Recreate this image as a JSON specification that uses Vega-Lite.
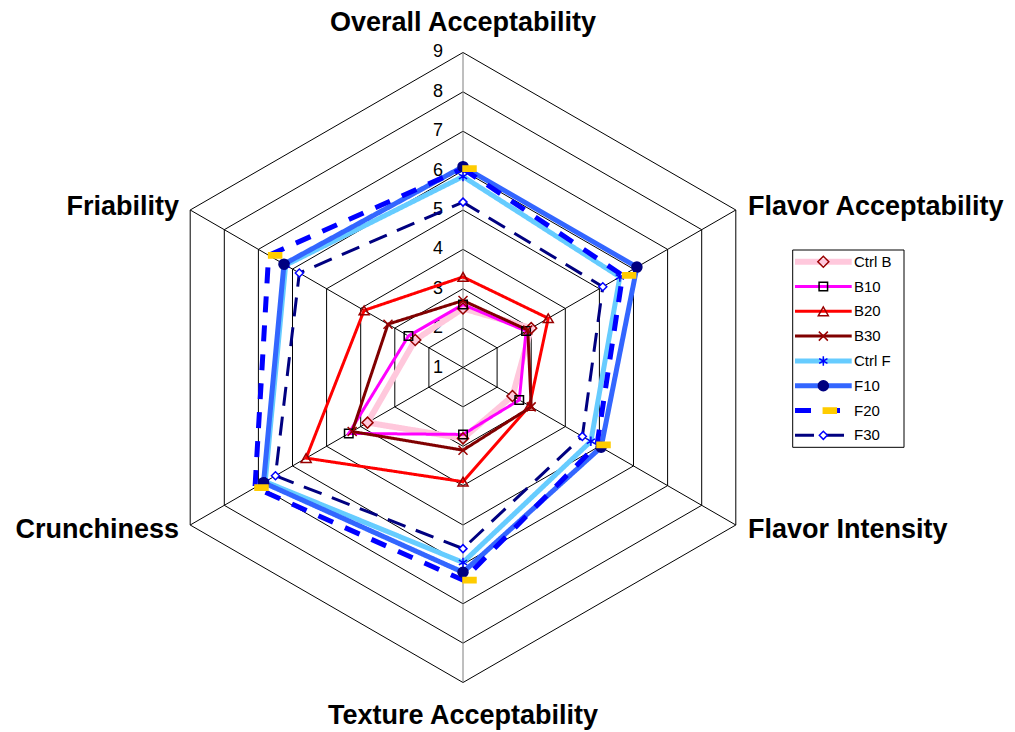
{
  "$schema": "https://vega.github.io/schema/vega-lite/v6.json",
  "width": 1015,
  "height": 732,
  "autosize": {"type": "none"},
  "padding": 0,
  "background": "white",
  "config": {"view": {"stroke": null}, "font": "Liberation Sans"},
  "datasets": {
    "scores": [
      {"series": "Ctrl B", "attribute": "Overall Acceptability", "value": 2.5},
      {"series": "Ctrl B", "attribute": "Flavor Acceptability", "value": 3.0},
      {"series": "Ctrl B", "attribute": "Flavor Intensity", "value": 2.45},
      {"series": "Ctrl B", "attribute": "Texture Acceptability", "value": 2.8},
      {"series": "Ctrl B", "attribute": "Crunchiness", "value": 3.8},
      {"series": "Ctrl B", "attribute": "Friability", "value": 2.4},
      {"series": "B10", "attribute": "Overall Acceptability", "value": 2.6},
      {"series": "B10", "attribute": "Flavor Acceptability", "value": 2.85},
      {"series": "B10", "attribute": "Flavor Intensity", "value": 2.65},
      {"series": "B10", "attribute": "Texture Acceptability", "value": 2.7},
      {"series": "B10", "attribute": "Crunchiness", "value": 4.35},
      {"series": "B10", "attribute": "Friability", "value": 2.6},
      {"series": "B20", "attribute": "Overall Acceptability", "value": 3.3},
      {"series": "B20", "attribute": "Flavor Acceptability", "value": 3.5},
      {"series": "B20", "attribute": "Flavor Intensity", "value": 2.95},
      {"series": "B20", "attribute": "Texture Acceptability", "value": 3.9},
      {"series": "B20", "attribute": "Crunchiness", "value": 5.6},
      {"series": "B20", "attribute": "Friability", "value": 3.9},
      {"series": "B30", "attribute": "Overall Acceptability", "value": 2.7},
      {"series": "B30", "attribute": "Flavor Acceptability", "value": 2.9},
      {"series": "B30", "attribute": "Flavor Intensity", "value": 3.0},
      {"series": "B30", "attribute": "Texture Acceptability", "value": 3.1},
      {"series": "B30", "attribute": "Crunchiness", "value": 4.25},
      {"series": "B30", "attribute": "Friability", "value": 3.2},
      {"series": "Ctrl F", "attribute": "Overall Acceptability", "value": 5.85},
      {"series": "Ctrl F", "attribute": "Flavor Acceptability", "value": 5.6},
      {"series": "Ctrl F", "attribute": "Flavor Intensity", "value": 4.75},
      {"series": "Ctrl F", "attribute": "Texture Acceptability", "value": 5.95},
      {"series": "Ctrl F", "attribute": "Crunchiness", "value": 6.8},
      {"series": "Ctrl F", "attribute": "Friability", "value": 6.2},
      {"series": "F10", "attribute": "Overall Acceptability", "value": 6.1},
      {"series": "F10", "attribute": "Flavor Acceptability", "value": 6.1},
      {"series": "F10", "attribute": "Flavor Intensity", "value": 5.05},
      {"series": "F10", "attribute": "Texture Acceptability", "value": 6.2},
      {"series": "F10", "attribute": "Crunchiness", "value": 6.85},
      {"series": "F10", "attribute": "Friability", "value": 6.25},
      {"series": "F20", "attribute": "Overall Acceptability", "value": 6.05},
      {"series": "F20", "attribute": "Flavor Acceptability", "value": 5.68},
      {"series": "F20", "attribute": "Flavor Intensity", "value": 4.93},
      {"series": "F20", "attribute": "Texture Acceptability", "value": 6.4},
      {"series": "F20", "attribute": "Crunchiness", "value": 7.1},
      {"series": "F20", "attribute": "Friability", "value": 6.7},
      {"series": "F30", "attribute": "Overall Acceptability", "value": 5.2},
      {"series": "F30", "attribute": "Flavor Acceptability", "value": 5.1},
      {"series": "F30", "attribute": "Flavor Intensity", "value": 4.5},
      {"series": "F30", "attribute": "Texture Acceptability", "value": 5.6},
      {"series": "F30", "attribute": "Crunchiness", "value": 6.5},
      {"series": "F30", "attribute": "Friability", "value": 5.8}
    ],
    "ticks": [{"v": 1}, {"v": 2}, {"v": 3}, {"v": 4}, {"v": 5}, {"v": 6}, {"v": 7}, {"v": 8}, {"v": 9}]
  },
  "encoding": {
    "x": {"field": "x", "type": "quantitative", "scale": {"domain": [-11.7587, 14.019], "nice": false, "zero": false}, "axis": null},
    "y": {"field": "y", "type": "quantitative", "scale": {"domain": [-9.2571, 9.3333], "nice": false, "zero": false}, "axis": null}
  },
  "layer": [
    {
      "data": {"name": "ticks"},
      "transform": [
        {"filter": "datum.v >= 2"},
        {"calculate": "[0,1,2,3,4,5]", "as": "ks"},
        {"flatten": ["ks"], "as": ["k"]},
        {"calculate": "(datum.v-1)*sin(datum.k*PI/3)", "as": "x"},
        {"calculate": "(datum.v-1)*cos(datum.k*PI/3)", "as": "y"}
      ],
      "mark": {"type": "line", "interpolate": "linear-closed", "color": "black", "strokeWidth": 1},
      "encoding": {"detail": {"field": "v", "type": "nominal"}, "order": {"field": "k", "type": "quantitative"}}
    },
    {
      "data": {"name": "ticks"},
      "transform": [
        {"filter": "datum.v == 9"},
        {"calculate": "[0,1,2,3,4,5]", "as": "ks"},
        {"flatten": ["ks"], "as": ["k"]},
        {"calculate": "(datum.v-1)*sin(datum.k*PI/3)", "as": "x"},
        {"calculate": "(datum.v-1)*cos(datum.k*PI/3)", "as": "y"}
      ],
      "mark": {"type": "rule", "strokeWidth": 1},
      "encoding": {
        "x2": {"datum": 0},
        "y2": {"datum": 0},
        "color": {"condition": {"test": "datum.k == 0 || datum.k == 3", "value": "#7f7f7f"}, "value": "black"}
      }
    },
    {
      "data": {"name": "ticks"},
      "transform": [
        {"calculate": "0", "as": "x"},
        {"calculate": "datum.v-1", "as": "y"}
      ],
      "mark": {"type": "text", "align": "right", "baseline": "middle", "dx": -20, "fontSize": 18, "color": "black"},
      "encoding": {"text": {"field": "v", "type": "nominal"}}
    },
    {
      "data": {"name": "scores"},
      "transform": [
        {"calculate": "indexof(['Overall Acceptability','Flavor Acceptability','Flavor Intensity','Texture Acceptability','Crunchiness','Friability'], datum.attribute)", "as": "k"},
        {"calculate": "(datum.value-1)*sin(datum.k*PI/3)", "as": "x"},
        {"calculate": "(datum.value-1)*cos(datum.k*PI/3)", "as": "y"}
      ],
      "mark": {"type": "line", "interpolate": "linear-closed"},
      "encoding": {
        "order": {"field": "k", "type": "quantitative"},
        "color": {"field": "series", "type": "nominal", "legend": null,
          "scale": {"type": "ordinal", "domain": ["Ctrl B", "B10", "B20", "B30", "Ctrl F", "F10", "F20", "F30"],
                    "range": ["#FFC8DC", "#FF00FF", "#FF0000", "#800000", "#66CCFF", "#3366FF", "#0000FF", "#000080"]}},
        "strokeWidth": {"field": "series", "type": "nominal", "legend": null,
          "scale": {"type": "ordinal", "domain": ["Ctrl B", "B10", "B20", "B30", "Ctrl F", "F10", "F20", "F30"],
                    "range": [6, 3, 3, 3, 5, 5, 5, 3]}},
        "strokeDash": {"field": "series", "type": "nominal", "legend": null,
          "scale": {"type": "ordinal", "domain": ["Ctrl B", "B10", "B20", "B30", "Ctrl F", "F10", "F20", "F30"],
                    "range": [[1, 0], [1, 0], [1, 0], [1, 0], [1, 0], [1, 0], [16, 13], [19, 11]]}}
      }
    },
    {
      "data": {"name": "scores"},
      "transform": [
        {"calculate": "indexof(['Overall Acceptability','Flavor Acceptability','Flavor Intensity','Texture Acceptability','Crunchiness','Friability'], datum.attribute)", "as": "k"},
        {"calculate": "(datum.value-1)*sin(datum.k*PI/3)", "as": "x"},
        {"calculate": "(datum.value-1)*cos(datum.k*PI/3)", "as": "y"}
      ],
      "mark": {"type": "point", "filled": true, "opacity": 1, "strokeWidth": 1.5},
      "encoding": {
        "shape": {"field": "series", "type": "nominal", "legend": null,
          "scale": {"type": "ordinal", "domain": ["Ctrl B", "B10", "B20", "B30", "Ctrl F", "F10", "F20", "F30"],
                    "range": ["diamond", "square", "triangle-up", "M-1,-1L1,1M-1,1L1,-1", "M0,-1L0,1M-0.87,-0.5L0.87,0.5M-0.87,0.5L0.87,-0.5", "circle", "M0,-0.2L1,-0.2L1,0.2L0,0.2Z", "diamond"]}},
        "size": {"field": "series", "type": "nominal", "legend": null,
          "scale": {"type": "ordinal", "domain": ["Ctrl B", "B10", "B20", "B30", "Ctrl F", "F10", "F20", "F30"],
                    "range": [121, 72, 100, 81, 90, 100, 676, 64]}},
        "fill": {"field": "series", "type": "nominal", "legend": null,
          "scale": {"type": "ordinal", "domain": ["Ctrl B", "B10", "B20", "B30", "Ctrl F", "F10", "F20", "F30"],
                    "range": ["transparent", "transparent", "transparent", "transparent", "transparent", "#000080", "#FFCC00", "white"]}},
        "stroke": {"field": "series", "type": "nominal", "legend": null,
          "scale": {"type": "ordinal", "domain": ["Ctrl B", "B10", "B20", "B30", "Ctrl F", "F10", "F20", "F30"],
                    "range": ["#990000", "#000000", "#990000", "#990000", "#0000FF", "#000080", "#FFCC00", "#0000FF"]}}
      }
    },
    {
      "data": {"name": "scores"},
      "transform": [
        {"filter": "datum.series == 'Ctrl B'"},
        {"calculate": "indexof(['Overall Acceptability','Flavor Acceptability','Flavor Intensity','Texture Acceptability','Crunchiness','Friability'], datum.attribute)", "as": "k"},
        {"filter": "datum.k == 0 || datum.k == 3"},
        {"calculate": "0", "as": "x"},
        {"calculate": "datum.k == 0 ? 8.75 : -8.85", "as": "y"}
      ],
      "mark": {"type": "text", "align": "center", "baseline": "middle", "fontSize": 27, "fontWeight": "bold", "color": "black"},
      "encoding": {"text": {"field": "attribute", "type": "nominal"}}
    },
    {
      "data": {"name": "scores"},
      "transform": [
        {"filter": "datum.series == 'Ctrl B'"},
        {"calculate": "indexof(['Overall Acceptability','Flavor Acceptability','Flavor Intensity','Texture Acceptability','Crunchiness','Friability'], datum.attribute)", "as": "k"},
        {"filter": "datum.k == 1 || datum.k == 2"},
        {"calculate": "7.238", "as": "x"},
        {"calculate": "datum.k == 1 ? 4.076 : -4.127", "as": "y"}
      ],
      "mark": {"type": "text", "align": "left", "baseline": "middle", "fontSize": 27, "fontWeight": "bold", "color": "black"},
      "encoding": {"text": {"field": "attribute", "type": "nominal"}}
    },
    {
      "data": {"name": "scores"},
      "transform": [
        {"filter": "datum.series == 'Ctrl B'"},
        {"calculate": "indexof(['Overall Acceptability','Flavor Acceptability','Flavor Intensity','Texture Acceptability','Crunchiness','Friability'], datum.attribute)", "as": "k"},
        {"filter": "datum.k == 4 || datum.k == 5"},
        {"calculate": "-7.213", "as": "x"},
        {"calculate": "datum.k == 5 ? 4.076 : -4.127", "as": "y"}
      ],
      "mark": {"type": "text", "align": "right", "baseline": "middle", "fontSize": 27, "fontWeight": "bold", "color": "black"},
      "encoding": {"text": {"field": "attribute", "type": "nominal"}}
    },
    {
      "data": {"values": [{"box": "legend"}]},
      "transform": [
        {"calculate": "8.373", "as": "x"},
        {"calculate": "11.2", "as": "x2"},
        {"calculate": "2.984", "as": "y"},
        {"calculate": "-2.027", "as": "y2"}
      ],
      "mark": {"type": "rect", "fill": "white", "stroke": "black", "strokeWidth": 1},
      "encoding": {"x2": {"field": "x2"}, "y2": {"field": "y2"}}
    },
    {
      "data": {"name": "scores"},
      "transform": [
        {"filter": "datum.attribute == 'Overall Acceptability'"},
        {"calculate": "indexof(['Ctrl B','B10','B20','B30','Ctrl F','F10','F20','F30'], datum.series)", "as": "i"},
        {"calculate": "8.432", "as": "x"},
        {"calculate": "9.872", "as": "x2"},
        {"calculate": "2.687 - datum.i*0.630", "as": "y"}
      ],
      "mark": {"type": "rule"},
      "encoding": {
        "x2": {"field": "x2"},
        "color": {"field": "series", "type": "nominal", "legend": null,
          "scale": {"type": "ordinal", "domain": ["Ctrl B", "B10", "B20", "B30", "Ctrl F", "F10", "F20", "F30"],
                    "range": ["#FFC8DC", "#FF00FF", "#FF0000", "#800000", "#66CCFF", "#3366FF", "#0000FF", "#000080"]}},
        "strokeWidth": {"field": "series", "type": "nominal", "legend": null,
          "scale": {"type": "ordinal", "domain": ["Ctrl B", "B10", "B20", "B30", "Ctrl F", "F10", "F20", "F30"],
                    "range": [6, 3, 3, 3, 5, 5, 5, 3]}},
        "strokeDash": {"field": "series", "type": "nominal", "legend": null,
          "scale": {"type": "ordinal", "domain": ["Ctrl B", "B10", "B20", "B30", "Ctrl F", "F10", "F20", "F30"],
                    "range": [[1, 0], [1, 0], [1, 0], [1, 0], [1, 0], [1, 0], [16, 13], [19, 11]]}}
      }
    },
    {
      "data": {"name": "scores"},
      "transform": [
        {"filter": "datum.attribute == 'Overall Acceptability'"},
        {"calculate": "indexof(['Ctrl B','B10','B20','B30','Ctrl F','F10','F20','F30'], datum.series)", "as": "i"},
        {"calculate": "9.151", "as": "x"},
        {"calculate": "2.687 - datum.i*0.630", "as": "y"}
      ],
      "mark": {"type": "point", "filled": true, "opacity": 1, "strokeWidth": 1.5},
      "encoding": {
        "shape": {"field": "series", "type": "nominal", "legend": null,
          "scale": {"type": "ordinal", "domain": ["Ctrl B", "B10", "B20", "B30", "Ctrl F", "F10", "F20", "F30"],
                    "range": ["diamond", "square", "triangle-up", "M-1,-1L1,1M-1,1L1,-1", "M0,-1L0,1M-0.87,-0.5L0.87,0.5M-0.87,0.5L0.87,-0.5", "circle", "M0,-0.2L1,-0.2L1,0.2L0,0.2Z", "diamond"]}},
        "size": {"field": "series", "type": "nominal", "legend": null,
          "scale": {"type": "ordinal", "domain": ["Ctrl B", "B10", "B20", "B30", "Ctrl F", "F10", "F20", "F30"],
                    "range": [121, 72, 100, 81, 90, 100, 676, 64]}},
        "fill": {"field": "series", "type": "nominal", "legend": null,
          "scale": {"type": "ordinal", "domain": ["Ctrl B", "B10", "B20", "B30", "Ctrl F", "F10", "F20", "F30"],
                    "range": ["transparent", "transparent", "transparent", "transparent", "transparent", "#000080", "#FFCC00", "white"]}},
        "stroke": {"field": "series", "type": "nominal", "legend": null,
          "scale": {"type": "ordinal", "domain": ["Ctrl B", "B10", "B20", "B30", "Ctrl F", "F10", "F20", "F30"],
                    "range": ["#990000", "#000000", "#990000", "#990000", "#0000FF", "#000080", "#FFCC00", "#0000FF"]}}
      }
    },
    {
      "data": {"name": "scores"},
      "transform": [
        {"filter": "datum.attribute == 'Overall Acceptability'"},
        {"calculate": "indexof(['Ctrl B','B10','B20','B30','Ctrl F','F10','F20','F30'], datum.series)", "as": "i"},
        {"calculate": "9.93", "as": "x"},
        {"calculate": "2.687 - datum.i*0.630", "as": "y"}
      ],
      "mark": {"type": "text", "align": "left", "baseline": "middle", "fontSize": 15, "color": "black"},
      "encoding": {"text": {"field": "series", "type": "nominal"}}
    }
  ]
}
